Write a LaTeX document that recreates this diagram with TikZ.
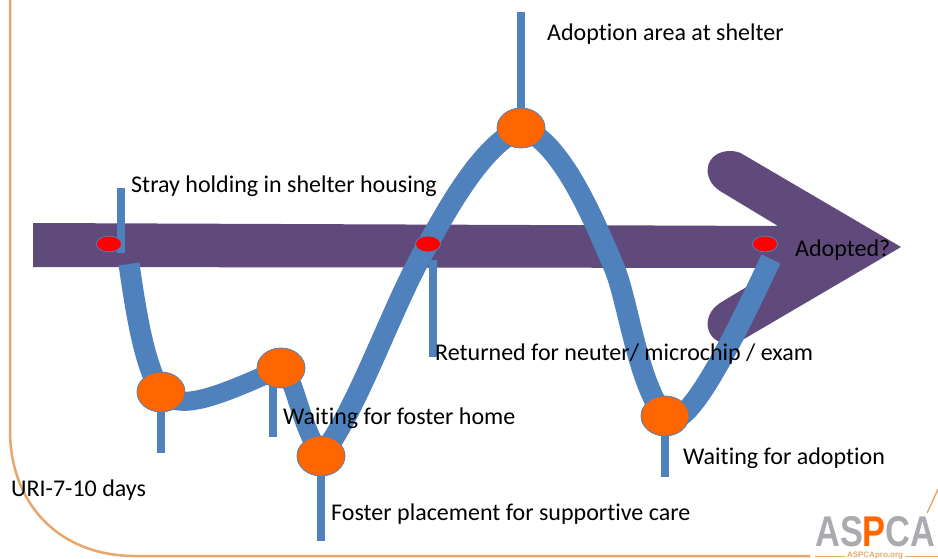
\documentclass[tikz,border=0pt]{standalone}
\usepackage{fontspec}
\setmainfont[Ligatures=NoCommon]{Carlito}
\newfontfamily\logofont{Liberation Sans}
\usetikzlibrary{backgrounds,shapes.geometric}
\definecolor{plum}{HTML}{604A7B}
\definecolor{steel}{HTML}{4F81BD}
\definecolor{tangerine}{HTML}{FF6600}
\definecolor{frameline}{HTML}{E6A76C}
\definecolor{logogrey}{HTML}{A9ABAE}
\tikzstyle{stage} = [ellipse, draw=steel, fill=tangerine, line width=0.8pt, minimum width=48pt, minimum height=40pt, inner sep=0pt]
\tikzstyle{checkpoint} = [ellipse, draw=steel, fill=red, line width=0.8pt, minimum width=25pt, minimum height=16pt, inner sep=0pt]
\tikzstyle{caption} = [anchor=west, inner sep=0pt, font=\fontsize{24}{28}\selectfont]
\tikzstyle{stem} = [draw=steel, line width=8pt]
\tikzstyle{band} = [draw=steel, line width=21pt, line join=round]
\begin{document}
\begin{tikzpicture}[x=1pt, y=-1pt]
  \useasboundingbox (0,0) rectangle (938,559);
  % stages along the path
  \node (stray) at (109,244) [checkpoint] {};
  \node (uri) at (161,392) [stage] {};
  \node (wait) at (281,368) [stage] {};
  \node (foster) at (321,456) [stage] {};
  \node (back) at (428,244) [checkpoint] {};
  \node (shelter) at (521,128) [stage] {};
  \node (home) at (665,416) [stage] {};
  \node (adopted) at (765,244) [checkpoint] {};
  % free ends
  \coordinate (bandstart) at (129,264);
  \coordinate (bandbend) at (614,267);
  \coordinate (bandend) at (771,259);
  \coordinate (straytop) at (121,188);
  \coordinate (straybot) at (121,253);
  \coordinate (uribot) at (161,453);
  \coordinate (waittop) at (273,380);
  \coordinate (waitbot) at (273,437);
  \coordinate (fosterbot) at (321,541);
  \coordinate (backtop) at (433,260);
  \coordinate (backbot) at (433,357);
  \coordinate (sheltertop) at (521,12);
  \coordinate (homebot) at (665,477);
  % labels
  \node (straytext) at (131,186.5) [caption] {Stray holding in shelter housing};
  \node (sheltertext) at (547,34.5) [caption] {Adoption area at shelter};
  \node (adoptedtext) at (795,250.5) [caption] {Adopted?};
  \node (backtext) at (435,354.5) [caption] {Returned for neuter/ microchip / exam};
  \node (waittext) at (283,418.5) [caption] {Waiting for foster home};
  \node (hometext) at (683,458.5) [caption] {Waiting for adoption};
  \node (fostertext) at (331,514.5) [caption] {Foster placement for supportive care};
  \node (uritext) at (11,490.5) [caption] {URI-7-10 days};
  % logo
  \node (logoa) at (815,532) [anchor=west, inner sep=0pt, text=logogrey, font=\fontsize{43}{43}\logofont\bfseries\selectfont] {\scalebox{0.8}[1]{AS\textcolor{tangerine}{P}CA}};
  \node (logob) at (875,556) [inner sep=0pt, text=frameline, font=\fontsize{8}{8}\logofont\bfseries\selectfont] {ASPCApro.org};
  \begin{scope}[on background layer]
    % frame
    \draw [frameline, line width=2.5pt] (10,0) -- (10,430) .. controls (10,505) and (60,556) .. (135,556) -- (810,556);
    \draw [frameline, line width=0.8pt] (815,556) -- (845,556) (905,556) -- (938,556);
    \draw [frameline, line width=1.5pt] (938,489) .. controls (934,498) and (931,505) .. (927,513);
    % long arrow
    \fill [plum] (33,223) -- (778,226) -- (720,191)
      .. controls (700,178) and (705,152) .. (729,151)
      .. controls (735,151) and (740,152) .. (744,155)
      -- (901,247) -- (744,339)
      .. controls (740,342) and (735,344) .. (729,344)
      .. controls (705,343) and (700,316) .. (720,303)
      -- (778,268) -- (33,267) -- cycle;
    % the path itself
    \draw [band] (bandstart) .. controls (137,320) and (145,365) .. (uri.center);
    \draw [band, line width=19pt] (uri.center) .. controls (178,412) and (215,398) .. (wait.center)
      .. controls (295,375) and (298,420) .. (foster.center);
    \draw [band] (foster.center)
      .. controls (358,410) and (392,305) .. (back.center)
      .. controls (455,195) and (485,145) .. (shelter.center)
      .. controls (560,140) and (592,215) .. (bandbend)
      .. controls (628,300) and (638,385) .. (home.center)
      .. controls (685,440) and (735,335) .. (bandend);
    \draw [stem] (straytop) -- (straybot);
    \draw [stem] (uri) -- (uribot);
    \draw [stem] (waittop) -- (waitbot);
    \draw [stem] (foster) -- (fosterbot);
    \draw [stem] (backtop) -- (backbot);
    \draw [stem] (shelter) -- (sheltertop);
    \draw [stem] (home) -- (homebot);
  \end{scope}
\end{tikzpicture}
\end{document}
